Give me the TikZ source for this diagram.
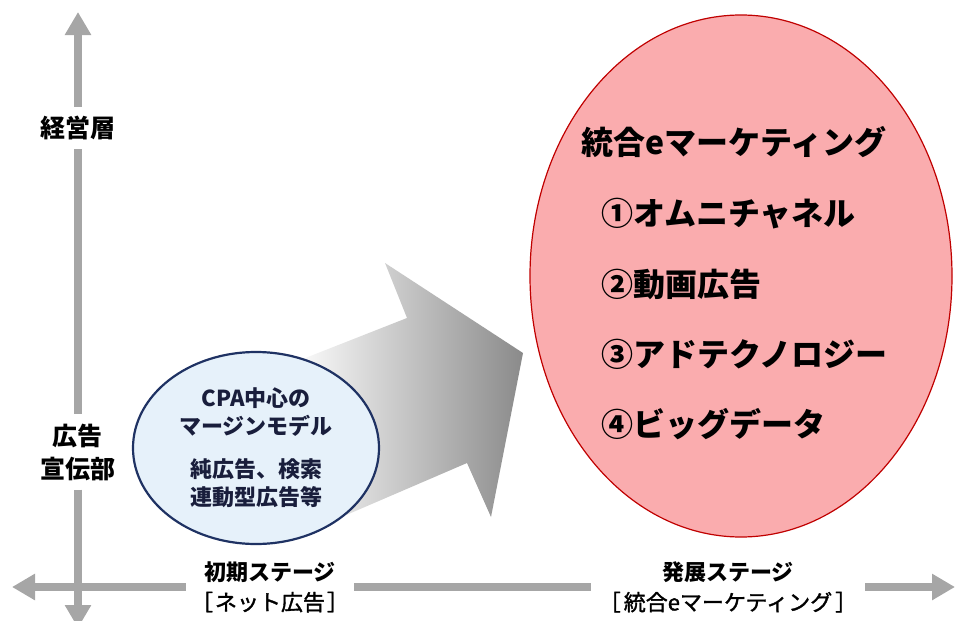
\documentclass[tikz,border=0pt]{standalone}
\usepackage{fontspec}
\newfontfamily\jpfont{Noto Sans CJK JP}
\newfontfamily\jpmedfont[FakeBold=1.5]{Noto Sans CJK JP}
\usetikzlibrary{positioning}
\usetikzlibrary{arrows.meta}
\usetikzlibrary{shapes.geometric}
\definecolor{axisgray}{RGB}{166,166,166}
\definecolor{arrowgray}{RGB}{138,138,138}
\definecolor{pinkfill}{RGB}{250,172,174}
\definecolor{darkred}{RGB}{192,0,0}
\definecolor{paleblue}{RGB}{230,241,250}
\definecolor{navyline}{RGB}{31,50,99}
\definecolor{navytext}{RGB}{25,30,60}

\begin{document}
\begin{tikzpicture}[x=1pt, y=-1pt,
    axis/.style={draw=axisgray, line width=8pt},
    axistip/.style={-{Triangle[width=25pt, length=23pt]}},
    axislabel/.style={font=\jpfont\bfseries\fontsize{25}{33}\selectfont, align=center, inner xsep=4pt, inner ysep=9pt},
    stagelabel/.style={font=\jpmedfont\fontsize{22}{30}\selectfont, align=center, inner ysep=0pt},
    marketing/.style={font=\jpfont\bfseries\fontsize{32}{38}\selectfont, inner sep=0pt},
    item/.style={marketing, text height=27pt, text depth=5pt},
  ]
        \useasboundingbox (0,0) rectangle (956,621);
        \clip (0,0) rectangle (956,621);
        % arrow %
        \shade[left color=white, middle color=arrowgray!80!white, right color=arrowgray]
          (290,364) -- (407,318) -- (385,263) -- (523,353) -- (491,517) -- (467,463) -- (330,522) -- cycle;
        % nodes %
        \node[ellipse, draw=navyline, line width=2.2pt, fill=paleblue, minimum width=246pt, minimum height=192pt,
              inner sep=0pt, text=navytext, align=center, font=\jpfont\bfseries\fontsize{22}{28}\selectfont] (cpa) at (256,448)
              {CPA中心の\\マージンモデル\\[15pt]純広告、検索\\連動型広告等};
        \node[ellipse, draw=darkred, line width=1.2pt, fill=pinkfill, minimum width=422pt, minimum height=522pt] (emkt) at (741,276) {};
        \node[marketing] (title) at (734,142) {統合eマーケティング};
        \node[item, anchor=west] (omni) at (601,214) {①オムニチャネル};
        \node[item, below=71pt of omni.west, anchor=west] (video) {②動画広告};
        \node[item, below=70pt of video.west, anchor=west] (adtech) {③アドテクノロジー};
        \node[item, below=70pt of adtech.west, anchor=west] (bigdata) {④ビッグデータ};
        \node[axislabel] (mgmt) at (78,128) {経営層};
        \node[axislabel] (adv) at (78,452) {広告\\宣伝部};
        \node[stagelabel, inner xsep=5pt] (early) at (270,587) {{\jpfont\bfseries 初期ステージ}\\［\hspace{2pt}ネット広告\hspace{2pt}］};
        \node[stagelabel, inner xsep=8pt] (later) at (728,587) {{\jpfont\bfseries 発展ステージ}\\［\hspace{3pt}統合eマーケティング\hspace{3pt}］};
        \coordinate (top) at (78,12);
        \coordinate (bottom) at (78,628);
        \coordinate (left) at (12,587);
        \coordinate (right) at (955,587);
        % edges %
        \draw[axis, axistip] (mgmt) -- (top);
        \draw[axis] (mgmt) -- (adv);
        \draw[axis, axistip] (adv) -- (bottom);
        \draw[axis, axistip] (early) -- (left);
        \draw[axis] (early) -- (later);
        \draw[axis, axistip] (later) -- (right);
\end{tikzpicture}
\end{document}
